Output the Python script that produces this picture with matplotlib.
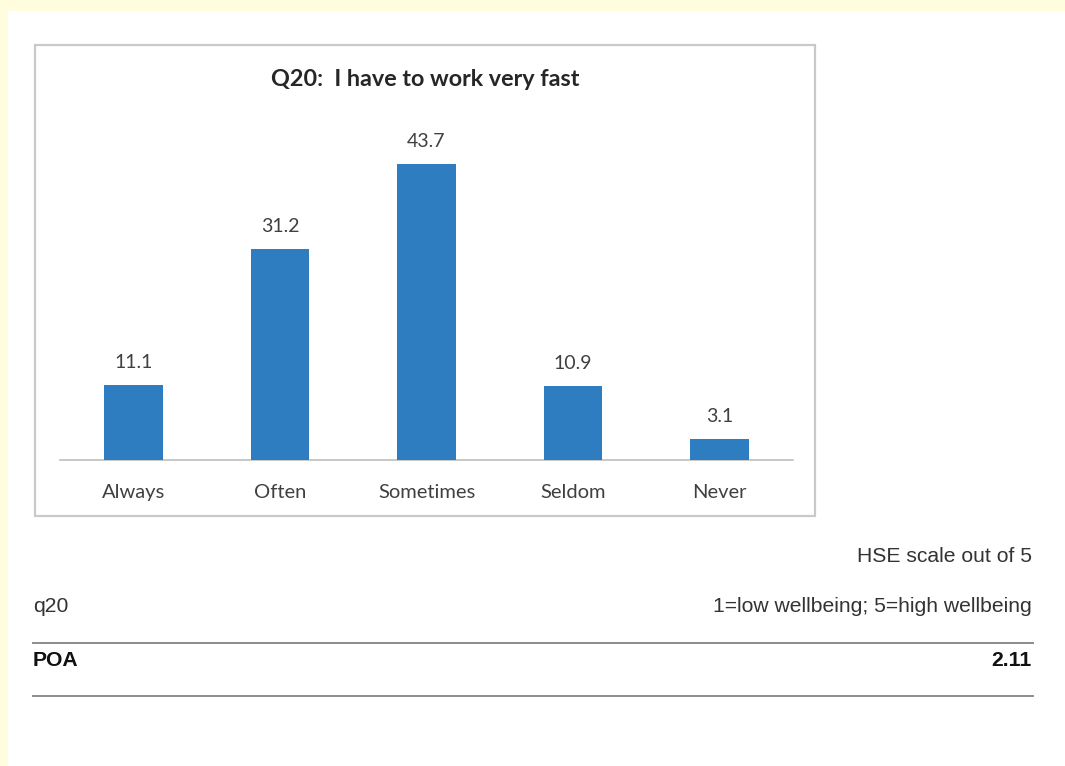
import matplotlib
matplotlib.use("Agg")
import matplotlib.pyplot as plt
from matplotlib.patches import Rectangle
from matplotlib.lines import Line2D

categories = ["Always", "Often", "Sometimes", "Seldom", "Never"]
values = [11.1, 31.2, 43.7, 10.9, 3.1]
title = "Q20:  I have to work very fast"
question_code = "q20"
group_label = "POA"
score_label = "2.11"
scale_note = "HSE scale out of 5"
scale_desc = "1=low wellbeing; 5=high wellbeing"

W, H = 1065, 766
fig = plt.figure(figsize=(W / 100, H / 100), dpi=100)
fig.patch.set_facecolor("white")

def fx(px):
    return px / W

def fy(py):
    return 1 - py / H

# yellow strips (top and left)
fig.add_artist(Rectangle((0, fy(11)), 1, 11 / H, transform=fig.transFigure,
                         facecolor="#FFFDDE", edgecolor="none", zorder=0))
fig.add_artist(Rectangle((0, 0), 8 / W, 1, transform=fig.transFigure,
                         facecolor="#FFFDDE", edgecolor="none", zorder=0))

# chart frame
fig.add_artist(Rectangle((fx(35), fy(516)), fx(815) - fx(35), fy(45) - fy(516),
                         transform=fig.transFigure, facecolor="white",
                         edgecolor="#C9C9C9", linewidth=1.6, zorder=1))

# axes
ax_l, ax_r, ax_b, ax_t = 60, 793, 460, 100
ax = fig.add_axes([fx(ax_l), fy(ax_b), fx(ax_r) - fx(ax_l), fy(ax_t) - fy(ax_b)])
ax.set_zorder(2)
ax.patch.set_alpha(0)
x = range(len(categories))
bars = ax.bar(x, values, width=0.4, color="#2E7DC1", zorder=3)
ax.set_xlim(-0.5, len(categories) - 0.5)
ax.set_ylim(0, (ax_b - ax_t) / 6.774)
for s in ["top", "right", "left"]:
    ax.spines[s].set_visible(False)
ax.spines["bottom"].set_color("#BFBFBF")
ax.spines["bottom"].set_linewidth(1.2)
ax.set_yticks([])
ax.set_xticks(list(x))
ax.set_xticklabels(categories, fontsize=14.5, family="Lato", color="#404040")
ax.tick_params(axis="x", length=0, pad=17)
for xi, v in zip(x, values):
    ax.annotate(f"{v:.1f}", (xi, v), xytext=(0, 10), textcoords="offset points",
                ha="center", va="bottom", fontsize=14, family="Lato", color="#404040")

fig.text(fx(425), fy(80), title, ha="center", va="center", fontsize=16.8,
         family="Lato", fontweight="bold", color="#262626")

# table below
txt_kw = dict(family="Liberation Sans", color="#333333", fontsize=15.2)
fig.text(fx(1032), fy(556), scale_note, ha="right", va="center", **txt_kw)
fig.text(fx(33), fy(606), question_code, ha="left", va="center", **txt_kw)
fig.text(fx(1032), fy(606), scale_desc, ha="right", va="center", **txt_kw)
fig.text(fx(33), fy(660), group_label, ha="left", va="center", fontweight="bold",
         **{**txt_kw, "color": "#111111"})
fig.text(fx(1032), fy(660), score_label, ha="right", va="center", fontweight="bold",
         **{**txt_kw, "color": "#111111"})
for ly in (643, 696):
    fig.add_artist(Line2D([fx(33), fx(1033)], [fy(ly), fy(ly)], transform=fig.transFigure,
                          color="#8C8C8C", linewidth=1.4))

fig.savefig("out.png", dpi=100, facecolor="white")
